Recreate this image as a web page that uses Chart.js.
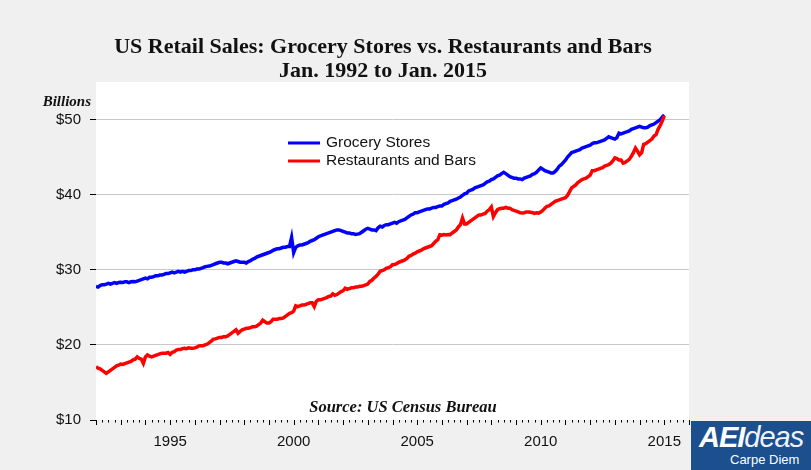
<!DOCTYPE html>
<html>
<head>
<meta charset="utf-8">
<script src="https://cdn.jsdelivr.net/npm/chart.js@4.4.1/dist/chart.umd.min.js"></script>
<style>
    html, body { margin: 0; padding: 0; background: #f0f0f0; }
    #wrap { position: relative; width: 811px; height: 470px; overflow: hidden; }
    #logo {
        position: absolute; left: 691px; top: 421px; width: 120px; height: 49px;
        background: #1b4f8e; color: #fff; font-family: "Liberation Sans", Arial, sans-serif;
    }
    #logo .big { position: absolute; left: 8px; top: 0px; font-size: 29px; font-style: italic; font-weight: bold; letter-spacing: -1px; }
    #logo .big span { font-weight: normal; color: #eef3fb; }
    #logo .small { position: absolute; left: 39px; top: 31px; font-size: 13px; }
</style>
</head>
<body>
<div id="wrap">
    <canvas id="sales-chart" width="811" height="470"></canvas>
    <div id="logo"><div class="big">AEI<span>deas</span></div><div class="small">Carpe Diem</div></div>
</div>
<script>
'use strict';

// monthly values, Jan 1992 .. Jan 2015, billions of dollars
const start_year = 1992;

const grocery = [
    27.8, 27.7, 27.9, 28.0, 28.0, 28.1, 28.2, 28.1, 28.2, 28.3, 28.2, 28.3,     // 1992
    28.35, 28.3, 28.4, 28.4, 28.3, 28.4, 28.45, 28.4, 28.5, 28.6, 28.7, 28.8,   // 1993
    28.9, 28.8, 29.0, 29.0, 29.1, 29.2, 29.2, 29.3, 29.3, 29.4, 29.5, 29.5,     // 1994
    29.6, 29.7, 29.6, 29.7, 29.8, 29.7, 29.8, 29.7, 29.8, 29.9, 29.9, 30.0,     // 1995
    30.0, 30.1, 30.1, 30.2, 30.3, 30.4, 30.45, 30.5, 30.6, 30.7, 30.8, 30.9,    // 1996
    31.0, 31.0, 30.9, 30.9, 30.8, 30.9, 31.0, 31.1, 31.2, 31.1, 31.0, 31.0,     // 1997
    31.0, 30.9, 31.1, 31.2, 31.4, 31.5, 31.7, 31.8, 31.9, 32.0, 32.1, 32.2,     // 1998
    32.3, 32.4, 32.6, 32.7, 32.8, 32.8, 32.9, 33.0, 33.0, 33.1, 33.1, 34.3,     // 1999
    32.3, 33.0, 33.2, 33.3, 33.3, 33.4, 33.5, 33.6, 33.8, 33.9, 34.0, 34.2,     // 2000
    34.4, 34.5, 34.6, 34.7, 34.8, 34.9, 35.0, 35.1, 35.2, 35.3, 35.3, 35.2,     // 2001
    35.1, 35.0, 34.9, 34.9, 34.8, 34.8, 34.7, 34.75, 34.8, 35.0, 35.2, 35.4,    // 2002
    35.5, 35.4, 35.3, 35.3, 35.2, 35.6, 35.8, 35.7, 35.9, 36.0, 36.0, 36.1,     // 2003
    36.2, 36.3, 36.2, 36.4, 36.5, 36.6, 36.7, 36.9, 37.1, 37.3, 37.4, 37.6,     // 2004
    37.6, 37.7, 37.8, 37.9, 38.0, 38.1, 38.1, 38.2, 38.3, 38.3, 38.4, 38.5,     // 2005
    38.5, 38.7, 38.8, 38.9, 39.1, 39.2, 39.3, 39.4, 39.55, 39.7, 39.9, 40.1,    // 2006
    40.2, 40.5, 40.6, 40.7, 40.9, 41.0, 41.1, 41.2, 41.3, 41.5, 41.7, 41.8,     // 2007
    42.0, 42.1, 42.3, 42.5, 42.6, 42.8, 42.97, 42.8, 42.6, 42.4, 42.3, 42.2,    // 2008
    42.2, 42.1, 42.1, 42.0, 42.2, 42.3, 42.4, 42.5, 42.7, 42.8, 43.0, 43.3,     // 2009
    43.55, 43.4, 43.2, 43.1, 43.0, 42.9, 42.9, 43.1, 43.4, 43.8, 44.0, 44.3,    // 2010
    44.6, 45.0, 45.3, 45.6, 45.7, 45.8, 45.9, 46.0, 46.2, 46.3, 46.4, 46.5,     // 2011
    46.6, 46.8, 46.9, 46.9, 47.0, 47.1, 47.2, 47.3, 47.5, 47.7, 47.6, 47.5,     // 2012
    47.4, 47.6, 48.2, 48.1, 48.2, 48.3, 48.4, 48.5, 48.7, 48.8, 48.9, 49.0,     // 2013
    49.1, 49.0, 48.9, 48.9, 49.0, 49.2, 49.3, 49.4, 49.6, 49.8, 50.0, 50.3,     // 2014
    50.6                                                                        // 2015
];

const restaurants = [
    17.1, 16.9, 16.8, 16.6, 16.4, 16.2, 16.4, 16.6, 16.8, 17.0, 17.2, 17.3,     // 1992
    17.45, 17.4, 17.5, 17.6, 17.7, 17.8, 18.0, 18.1, 18.4, 18.2, 18.1, 17.55,   // 1993
    18.4, 18.67, 18.5, 18.4, 18.5, 18.6, 18.7, 18.8, 18.9, 18.9, 18.9, 19.0,    // 1994
    18.75, 19.0, 19.1, 19.3, 19.4, 19.4, 19.5, 19.55, 19.5, 19.6, 19.55, 19.55, // 1995
    19.6, 19.7, 19.87, 19.9, 19.9, 20.0, 20.1, 20.3, 20.5, 20.76, 20.8, 20.9,   // 1996
    21.0, 21.0, 21.1, 21.1, 21.2, 21.4, 21.6, 21.8, 22.0, 21.55, 21.8, 22.0,    // 1997
    22.1, 22.2, 22.2, 22.3, 22.4, 22.4, 22.5, 22.7, 22.9, 23.3, 23.1, 22.9,     // 1998
    22.9, 23.1, 23.4, 23.4, 23.4, 23.5, 23.5, 23.6, 23.8, 24.0, 24.2, 24.3,     // 1999
    24.5, 25.2, 25.1, 25.2, 25.3, 25.3, 25.4, 25.5, 25.6, 25.6, 25.1, 25.8,     // 2000
    26.0, 26.0, 26.1, 26.2, 26.3, 26.45, 26.5, 26.8, 26.6, 26.7, 26.9, 27.1,    // 2001
    27.2, 27.55, 27.4, 27.5, 27.6, 27.6, 27.7, 27.7, 27.8, 27.8, 27.9, 28.0,    // 2002
    28.1, 28.45, 28.6, 28.9, 29.1, 29.4, 29.8, 29.9, 30.0, 30.2, 30.3, 30.4,    // 2003
    30.67, 30.7, 30.8, 31.0, 31.1, 31.2, 31.3, 31.5, 31.8, 31.9, 32.1, 32.2,    // 2004
    32.4, 32.5, 32.6, 32.8, 32.9, 33.0, 33.1, 33.2, 33.5, 33.8, 34.0, 34.67,    // 2005
    34.6, 34.7, 34.65, 34.7, 34.67, 34.9, 35.1, 35.3, 35.7, 36.0, 36.9, 36.1,   // 2006
    36.1, 36.3, 36.5, 36.7, 36.9, 37.1, 37.3, 37.3, 37.4, 37.5, 37.8, 38.0,     // 2007
    38.35, 37.1, 37.6, 38.0, 38.13, 38.2, 38.2, 38.3, 38.2, 38.2, 38.0, 37.9,   // 2008
    37.8, 37.7, 37.6, 37.55, 37.6, 37.7, 37.7, 37.65, 37.6, 37.5, 37.6, 37.55,  // 2009
    37.7, 37.9, 38.2, 38.45, 38.5, 38.7, 38.9, 39.1, 39.2, 39.3, 39.4, 39.5,    // 2010
    39.6, 39.9, 40.4, 40.9, 41.1, 41.3, 41.6, 41.8, 42.0, 42.1, 42.2, 42.4,     // 2011
    42.6, 43.2, 43.2, 43.3, 43.4, 43.5, 43.6, 43.8, 43.9, 44.0, 44.2, 44.5,     // 2012
    44.9, 44.8, 44.6, 44.6, 44.2, 44.3, 44.5, 44.7, 45.1, 45.6, 46.2, 45.8,     // 2013
    45.3, 45.6, 46.7, 46.8, 47.0, 47.2, 47.4, 47.8, 48.0, 48.7, 49.2, 49.8,     // 2014
    50.5                                                                        // 2015
];

const series_names = ['Grocery Stores', 'Restaurants and Bars'];
const series_colours = ['#0000ff', '#ff0000'];
const year_labels = [1995, 2000, 2005, 2010, 2015];
const y_tick_values = [10, 20, 30, 40, 50];

const title_lines = ['US Retail Sales: Grocery Stores vs. Restaurants and Bars', 'Jan. 1992 to Jan. 2015'];
const units_text = 'Billions';
const source_text = 'Source: US Census Bureau';

// month index -> fractional year for the linear x scale
const month_points = values => values.map((v, i) => ({ x: start_year + i / 12, y: v }));

const plot_background = {
    id: 'plot_background',
    beforeDraw(chart) {
        const { ctx, chartArea: a } = chart;
        ctx.save();
        ctx.fillStyle = '#ffffff';
        ctx.fillRect(a.left, a.top, a.right - a.left, a.bottom - a.top);
        ctx.restore();
    }
};

const decorations = {
    id: 'decorations',
    afterDraw(chart) {
        const { ctx, chartArea: a } = chart;
        const x = chart.scales.x;
        ctx.save();

        // x tick marks: long on years, short on quarters
        ctx.strokeStyle = '#000';
        ctx.lineWidth = 1;
        x.ticks.forEach(t => {
            const px = Math.round(x.getPixelForValue(t.value)) + 0.5;
            const len = Number.isInteger(t.value) ? 5 : 2.5;
            ctx.beginPath();
            ctx.moveTo(px, a.bottom);
            ctx.lineTo(px, a.bottom + len);
            ctx.stroke();
        });

        // title
        ctx.fillStyle = '#111';
        ctx.textAlign = 'center';
        ctx.textBaseline = 'middle';
        ctx.font = 'bold 22px "Liberation Serif", serif';
        ctx.fillText(title_lines[0], 383, 47);
        ctx.fillText(title_lines[1], 383, 71);

        // units and source
        ctx.font = 'italic bold 15px "Liberation Serif", serif';
        ctx.textAlign = 'right';
        ctx.fillText(units_text, 91, 102);
        ctx.font = 'italic bold 16.5px "Liberation Serif", serif';
        ctx.textAlign = 'center';
        ctx.fillText(source_text, 403, 408);

        // legend
        ctx.font = '15.5px "Liberation Sans", Arial, sans-serif';
        ctx.textAlign = 'left';
        series_names.forEach((name, i) => {
            const yy = 143 + i * 18;
            ctx.strokeStyle = series_colours[i];
            ctx.lineWidth = 3;
            ctx.beginPath();
            ctx.moveTo(288, yy);
            ctx.lineTo(320, yy);
            ctx.stroke();
            ctx.fillStyle = '#111';
            ctx.fillText(name, 326, yy);
        });

        ctx.restore();
    }
};

const config = {
    type: 'line',
    data: {
        datasets: [
            {
                label: series_names[0],
                data: month_points(grocery),
                borderColor: series_colours[0],
                borderWidth: 3.5,
                pointRadius: 0,
                order: 2
            },
            {
                label: series_names[1],
                data: month_points(restaurants),
                borderColor: series_colours[1],
                borderWidth: 3.5,
                pointRadius: 0,
                order: 1
            }
        ]
    },
    plugins: [plot_background, decorations],
    options: {
        responsive: false,
        animation: false,
        layout: { padding: { top: 82, right: 122, left: 0, bottom: 0 } },
        plugins: {
            legend: { display: false },
            title: { display: false },
            tooltip: { enabled: false }
        },
        scales: {
            x: {
                type: 'linear',
                min: 1992,
                max: 2016,
                afterFit: s => { s.height = 50; },
                border: { display: false },
                grid: { display: false },
                ticks: {
                    stepSize: 0.25,
                    autoSkip: false,
                    maxRotation: 0,
                    padding: 5,
                    color: '#111',
                    font: { family: '"Liberation Sans", Arial, sans-serif', size: 15 },
                    callback: v => year_labels.includes(v) ? String(v) : ''
                }
            },
            y: {
                min: 10,
                max: 55,
                afterFit: s => { s.width = 96; },
                afterBuildTicks: s => { s.ticks = y_tick_values.map(v => ({ value: v })); },
                border: { display: false },
                grid: {
                    color: c => (c.tick && c.tick.value === 10) ? 'rgba(0,0,0,0)' : '#c8c8c8',
                    tickColor: '#000',
                    tickLength: 6,
                    lineWidth: 1
                },
                ticks: {
                    padding: 9,
                    color: '#111',
                    font: { family: '"Liberation Sans", Arial, sans-serif', size: 15 },
                    callback: v => '$' + v
                }
            }
        }
    }
};

new Chart(document.getElementById('sales-chart'), config);
</script>
</body>
</html>
